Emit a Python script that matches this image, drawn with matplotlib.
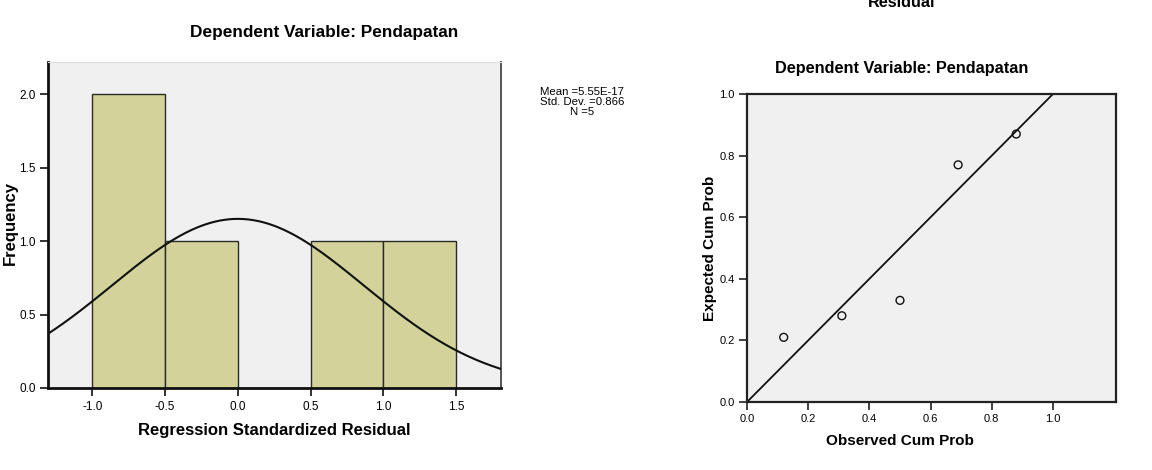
import numpy as np
import matplotlib.pyplot as plt

# Histogram of standardized residuals
bin_edges = [-1.0, -0.5, 0.0, 0.5, 1.0, 1.5]
bin_counts = [2, 1, 0, 1, 1]
res_mean = 5.55e-17
res_std = 0.866
res_n = 5

# P-P plot
observed_cum = [0.12, 0.31, 0.50, 0.69, 0.88]
expected_cum = [0.21, 0.28, 0.33, 0.77, 0.87]

plt.rcParams['font.family'] = ['Liberation Sans', 'DejaVu Sans']

fig = plt.figure(figsize=(11.52, 4.70), dpi=100)
W, H = 1152, 470


def px_axes(l, t, r, b):
    return fig.add_axes([l / W, 1 - b / H, (r - l) / W, (b - t) / H])


def px_text(x, y, s, **kw):
    kw.setdefault('ha', 'center')
    kw.setdefault('va', 'center')
    return fig.text(x / W, 1 - y / H, s, **kw)


bg = '#f0f0f0'
bar_col = '#d3d29a'

# ---- histogram ----
ax1 = px_axes(48, 62, 501, 388)
ax1.set_facecolor(bg)
widths = np.diff(bin_edges)
ax1.bar(bin_edges[:-1], bin_counts, width=widths, align='edge',
        color=bar_col, edgecolor='#2a2a2a', linewidth=1.0, zorder=2)
xs = np.linspace(-1.31, 1.81, 300)
binw = widths[0]
pdf = res_n * binw / (res_std * np.sqrt(2 * np.pi)) * np.exp(-0.5 * ((xs - res_mean) / res_std) ** 2)
ax1.plot(xs, pdf, color='#111111', linewidth=1.5, zorder=3)
ax1.set_xlim(-1.306, 1.81)
ax1.set_ylim(0, 2.22)
ax1.set_xticks([-1.0, -0.5, 0.0, 0.5, 1.0, 1.5])
ax1.set_yticks([0.0, 0.5, 1.0, 1.5, 2.0])
ax1.xaxis.set_major_formatter(plt.FormatStrFormatter('%.1f'))
ax1.yaxis.set_major_formatter(plt.FormatStrFormatter('%.1f'))
ax1.tick_params(labelsize=8.5, length=6, width=1.2, color='#111111', pad=3)
for s in ['left', 'bottom']:
    ax1.spines[s].set_linewidth(2.0)
    ax1.spines[s].set_color('#111111')
ax1.spines['top'].set_linewidth(0.8)
ax1.spines['top'].set_color('#dddddd')
ax1.spines['right'].set_linewidth(1.4)
ax1.spines['right'].set_color('#555555')

px_text(274, 430, 'Regression Standardized Residual', fontsize=12, fontweight='bold')
px_text(10, 223, 'Frequency', fontsize=12, fontweight='bold', rotation=90)
px_text(324, 33, 'Dependent Variable: Pendapatan', fontsize=12.4, fontweight='bold')
px_text(582, 102,
        'Mean =%.2E\nStd. Dev. =%.3f\nN =%d' % (res_mean, res_std, res_n),
        fontsize=8.2, linespacing=0.95)

# ---- P-P plot ----
ax2 = px_axes(747, 94, 1116, 402)
ax2.set_facecolor(bg)
ax2.plot([0, 1], [0, 1], color='#111111', linewidth=1.3, zorder=2)
ax2.scatter(observed_cum, expected_cum, s=32, facecolors='none',
            edgecolors='#111111', linewidths=1.0, zorder=3)
ax2.set_xlim(0, 1.206)
ax2.set_ylim(0, 1.0)
ax2.set_xticks([0.0, 0.2, 0.4, 0.6, 0.8, 1.0])
ax2.set_yticks([0.0, 0.2, 0.4, 0.6, 0.8, 1.0])
ax2.xaxis.set_major_formatter(plt.FormatStrFormatter('%.1f'))
ax2.yaxis.set_major_formatter(plt.FormatStrFormatter('%.1f'))
ax2.tick_params(labelsize=8, length=6, width=1.2, color='#222222', pad=3)
for s in ax2.spines.values():
    s.set_linewidth(1.6)
    s.set_color('#222222')

px_text(900, 441, 'Observed Cum Prob', fontsize=11, fontweight='bold')
px_text(710, 248, 'Expected Cum Prob', fontsize=11, fontweight='bold', rotation=90)
px_text(902, 68, 'Dependent Variable: Pendapatan', fontsize=11.7, fontweight='bold')
px_text(902, 7, 'Residual', fontsize=11.7, fontweight='bold', va='baseline')

fig.savefig('out.png', dpi=100)
